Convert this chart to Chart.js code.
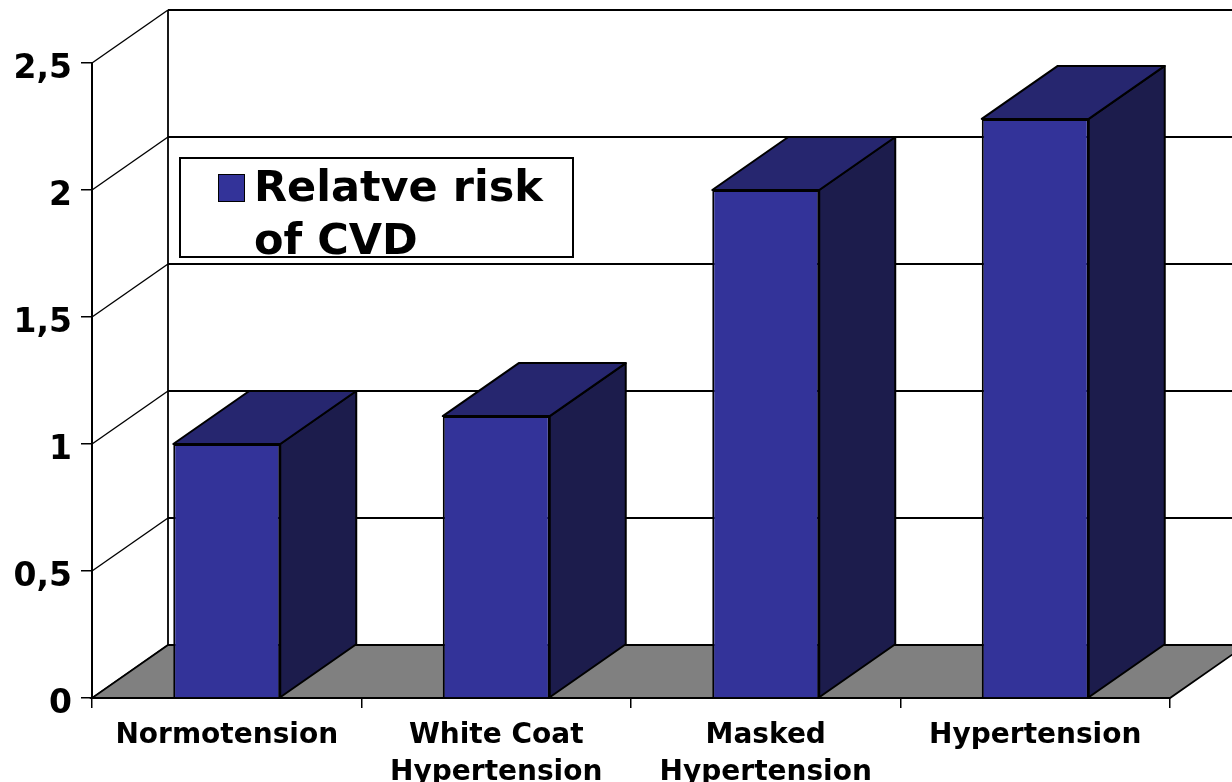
<!DOCTYPE html>
<html>
<head>
<meta charset="utf-8">
<script src="https://cdn.jsdelivr.net/npm/chart.js@4.4.1/dist/chart.umd.min.js"></script>
<style>
  html, body { margin: 0; padding: 0; background: #fff; }
  #wrap { position: relative; width: 1232px; height: 782px; overflow: hidden; }
  #legend {
    position: absolute; left: 179px; top: 157px; width: 391px; height: 97px;
    background: #fff; border: 2px solid #000;
    font-family: 'DejaVu Sans', Verdana, sans-serif; font-weight: bold;
    font-size: 43px; line-height: 53px; color: #000;
  }
  #legend .mk {
    position: absolute; left: 37px; top: 15px; width: 25px; height: 26px;
    border: 1.5px solid #000;
  }
  #legend .tx { position: absolute; left: 73px; top: 1px; width: 312px; }
</style>
</head>
<body>
<div id="wrap">
  <canvas id="c" width="1232" height="782"></canvas>
  <div id="legend"><div class="mk"></div><div class="tx"></div></div>
</div>
<script>
const categories = ['Normotension', ['White Coat', 'Hypertension'], ['Masked', 'Hypertension'], 'Hypertension'];
const seriesLabel = 'Relatve risk of CVD';
const relativeRisk = [1.0, 1.11, 2.0, 2.28];
const yTicks = { min: 0, max: 2.5, step: 0.5 };

const FRONT = '#333399', TOP = '#26266f', SIDE = '#1c1c4c', FLOOR = '#808080';
const DX = 76, DY = 53;

const walls3d = {
  id: 'walls3d',
  beforeDatasetsDraw(chart) {
    const ctx = chart.ctx, y = chart.scales.y;
    const L = chart.chartArea.left, R = chart.chartArea.right;
    const W = chart.width;
    ctx.save();
    ctx.strokeStyle = '#000';
    y.ticks.forEach(t => {
      const py = y.getPixelForValue(t.value);
      ctx.lineWidth = 1.4;
      ctx.beginPath(); ctx.moveTo(L, py); ctx.lineTo(L + DX, py - DY); ctx.stroke();
      if (t.value !== 0) {
        ctx.lineWidth = (t.value === yTicks.max) ? 2.2 : 1.8;
        ctx.beginPath(); ctx.moveTo(L + DX, py - DY); ctx.lineTo(W, py - DY); ctx.stroke();
      }
    });
    const yTop = y.getPixelForValue(yTicks.max), y0 = y.getPixelForValue(0);
    ctx.lineWidth = 1.8;
    ctx.beginPath(); ctx.moveTo(L + DX, yTop - DY); ctx.lineTo(L + DX, y0 - DY); ctx.stroke();
    ctx.fillStyle = FLOOR; ctx.lineWidth = 1.8;
    ctx.beginPath();
    ctx.moveTo(L, y0); ctx.lineTo(R, y0); ctx.lineTo(R + DX, y0 - DY); ctx.lineTo(L + DX, y0 - DY);
    ctx.closePath(); ctx.fill(); ctx.stroke();
    ctx.restore();
  },
  afterDatasetsDraw(chart) {
    const ctx = chart.ctx;
    const meta = chart.getDatasetMeta(0);
    ctx.save();
    ctx.strokeStyle = '#000'; ctx.lineWidth = 2; ctx.lineJoin = 'round';
    meta.data.forEach(b => {
      const p = b.getProps(['x', 'y', 'base', 'width'], true);
      const l = p.x - p.width / 2, r = p.x + p.width / 2;
      ctx.fillStyle = SIDE;
      ctx.beginPath();
      ctx.moveTo(r, p.base); ctx.lineTo(r + DX, p.base - DY); ctx.lineTo(r + DX, p.y - DY); ctx.lineTo(r, p.y);
      ctx.closePath(); ctx.fill(); ctx.stroke();
      ctx.fillStyle = TOP;
      ctx.beginPath();
      ctx.moveTo(l, p.y); ctx.lineTo(r, p.y); ctx.lineTo(r + DX, p.y - DY); ctx.lineTo(l + DX, p.y - DY);
      ctx.closePath(); ctx.fill(); ctx.stroke();
    });
    ctx.restore();
  }
};

Chart.defaults.font.family = "'DejaVu Sans', Verdana, sans-serif";
Chart.defaults.color = '#000';

const chart = new Chart(document.getElementById('c'), {
  type: 'bar',
  data: {
    labels: categories,
    datasets: [{
      label: seriesLabel,
      data: relativeRisk,
      backgroundColor: FRONT,
      borderColor: '#000',
      borderWidth: 2,
      barPercentage: 0.397,
      categoryPercentage: 1.0
    }]
  },
  options: {
    responsive: false,
    animation: false,
    layout: { padding: { top: 63, right: 62, left: 0, bottom: 0 } },
    plugins: { legend: { display: false }, tooltip: { enabled: false } },
    scales: {
      x: {
        grid: { display: true, drawOnChartArea: false, drawTicks: true, tickLength: 10, color: '#000', lineWidth: 1.5, offset: true },
        border: { display: true, color: '#000', width: 2 },
        ticks: { font: { size: 28, weight: 'bold', lineHeight: 1.3 }, padding: 10, maxRotation: 0, autoSkip: false, color: '#000' },
        afterFit: s => { s.height = 84; }
      },
      y: {
        min: yTicks.min, max: yTicks.max,
        grid: { display: true, drawOnChartArea: false, drawTicks: true, tickLength: 11, color: '#000', lineWidth: 1.5 },
        border: { display: true, color: '#000', width: 2 },
        ticks: {
          stepSize: yTicks.step, padding: 9, labelOffset: 6,
          font: { size: 33, weight: 'bold' }, color: '#000',
          callback: v => String(v).replace('.', ',')
        },
        afterFit: s => { s.width = 92; }
      }
    }
  },
  plugins: [walls3d]
});

const ds = chart.data.datasets[0];
document.querySelector('#legend .mk').style.background = ds.backgroundColor;
document.querySelector('#legend .tx').textContent = ds.label;
</script>
</body>
</html>
